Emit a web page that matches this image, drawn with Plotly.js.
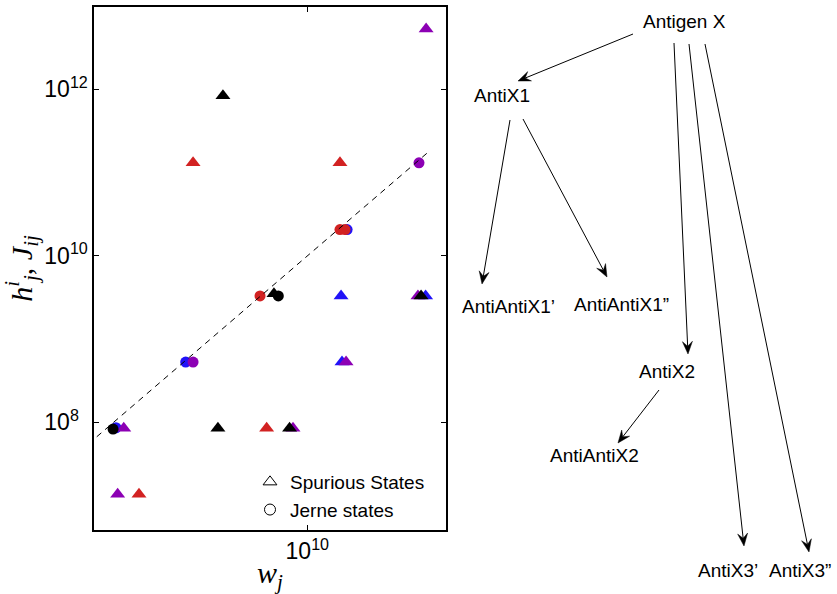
<!DOCTYPE html>
<html>
<head>
<meta charset="utf-8">
<script src="https://cdn.plot.ly/plotly-3.0.1.min.js"></script>
<style>html,body{margin:0;padding:0;background:#fff}</style>
</head>
<body>
<div id="chart" style="width:837px;height:594px"></div>
<script>
// ---- data (w_j, h / J values) ----
const blueW   = [2.2e9, 3.82e9, 1.37e10, 1.306e10, 2.55e10, 1.316e10];
const blueH   = [8.6e7, 5.3e8, 2.07e10, 3.3e9, 3.3e9, 5.3e8];
const blueSym = ['circle','circle','circle','triangle-up','triangle-up','triangle-up'];

const purpleW   = [4.05e9, 2.42e10, 2.56e10, 2.40e10, 1.359e10, 2.34e9, 8.93e9, 2.23e9];
const purpleH   = [5.3e8, 1.31e11, 5.3e12, 3.3e9, 5.3e8, 8.5e7, 8.5e7, 1.37e7];
const purpleSym = ['circle','circle','triangle-up','triangle-up','triangle-up','triangle-up','triangle-up','triangle-up'];

const redW   = [6.88e9, 1.295e10, 1.348e10, 4.05e9, 1.295e10, 7.25e9, 2.64e9];
const redH   = [3.3e9, 2.07e10, 2.07e10, 1.31e11, 1.31e11, 8.5e7, 1.37e7];
const redSym = ['circle','circle','circle','triangle-up','triangle-up','triangle-up','triangle-up'];

const blackW   = [5.13e9, 7.68e9, 7.95e9, 2.46e10, 2.15e9, 4.93e9, 8.69e9];
const blackH   = [8.4e11, 3.5e9, 3.3e9, 3.3e9, 8.3e7, 8.5e7, 8.5e7];
const blackSym = ['triangle-up','triangle-up','circle','triangle-up','circle','triangle-up','triangle-up'];

const fitW = [1.89e9, 2.64e10];
const fitH = [6.7e7, 1.84e11];

const legendNames = ['Spurious States', 'Jerne states'];
const legendSyms  = ['triangle-up-open', 'circle-open'];

const yTickVals = [1e8, 1e10, 1e12];
const yTickText = ['10<sup>8\u00a0\u00a0</sup>', '10<sup>10</sup>', '10<sup>12</sup>'];
const xTickVals = [1e10];
const xTickText = ['10<sup>10</sup>'];

// tree diagram
const nodeLabels = ['Antigen X','AntiX1',"AntiAntiX1\u2019","AntiAntiX1\u201d",'AntiX2','AntiAntiX2',"AntiX3\u2019","AntiX3\u201d"];
// ---- layout helpers (positions in figure pixels) ----
const W = 837, H = 594;
const nodePos = [[684,21],[502,95],[508,306],[621,304],[667,371],[594,456],[728,570],[800,570]];
const arrows = [ // tail -> head
  [[633,34],[518,81]],
  [[510,120],[482,284]],
  [[523,119],[607,277]],
  [[674,43],[688,354]],
  [[659,390],[618,443]],
  [[689,44],[744,546]],
  [[705,44],[809,552]]
];

const colors = {blue:'#2012f8', purple:'#8c00b4', red:'#d22222', black:'#000000'};
const msize = s => s.map(v => v === 'circle' ? 11 : 13);
const mk = (c, s) => ({color:c, symbol:s, size:msize(s), opacity:1, line:{width:0}});

const traces = [
  {x: blueW, y: blueH, mode:'markers', marker:mk(colors.blue, blueSym), showlegend:false},
  {x: purpleW, y: purpleH, mode:'markers', marker:mk(colors.purple, purpleSym), showlegend:false},
  {x: redW, y: redH, mode:'markers', marker:mk(colors.red, redSym), showlegend:false},
  {x: blackW, y: blackH, mode:'markers', marker:mk(colors.black, blackSym), showlegend:false},
  {x: fitW, y: fitH, mode:'lines', line:{color:'#000', width:1, dash:'6px,5px'}, showlegend:false},
  {x:[null], y:[null], mode:'markers', name:legendNames[0], marker:{symbol:legendSyms[0], size:12, color:'#000', opacity:1, line:{width:1,color:'#000'}}},
  {x:[null], y:[null], mode:'markers', name:legendNames[1], marker:{symbol:legendSyms[1], size:11, color:'#000', opacity:1, line:{width:1,color:'#000'}}}
];

const annotations = nodeLabels.map((t,i) => ({
  xref:'paper', yref:'paper', x:nodePos[i][0]/W, y:1-nodePos[i][1]/H,
  text:t, showarrow:false, xanchor:'center', yanchor:'middle',
  font:{family:'Liberation Sans, Arial, sans-serif', size:19, color:'#000'}
}));

// arrows as shapes: shaft line + concave filled head
const px = (x) => x / W, py = (y) => 1 - y / H;
const shapes = [];
const HEAD_L = 12.5, HEAD_HW = 5, NOTCH = 0.62;
arrows.forEach(([t, h]) => {
  const dx = h[0]-t[0], dy = h[1]-t[1];
  const len = Math.hypot(dx, dy), ux = dx/len, uy = dy/len;
  const nx = -uy, ny = ux;
  const bx = h[0]-ux*HEAD_L, by = h[1]-uy*HEAD_L;
  const mxp = h[0]-ux*HEAD_L*NOTCH, myp = h[1]-uy*HEAD_L*NOTCH;
  shapes.push({type:'line', xref:'paper', yref:'paper',
    x0:px(t[0]), y0:py(t[1]), x1:px(mxp), y1:py(myp),
    line:{color:'#000', width:1}});
  const p = [[h[0],h[1]],[bx+nx*HEAD_HW, by+ny*HEAD_HW],[mxp,myp],[bx-nx*HEAD_HW, by-ny*HEAD_HW]];
  shapes.push({type:'path', xref:'paper', yref:'paper',
    path:'M' + p.map(q => px(q[0]).toFixed(5)+','+py(q[1]).toFixed(5)).join(' L') + ' Z',
    fillcolor:'#000', line:{color:'#000', width:0.5}});
});

const axisCommon = {
  type:'log', showgrid:false, zeroline:false, showline:true, linecolor:'#000', linewidth:1.6,
  mirror:'ticks', ticks:'inside', ticklen:5, tickwidth:1, tickcolor:'#000',
  tickfont:{family:'Liberation Sans, Arial, sans-serif', size:23, color:'#000'},
  tickmode:'array', automargin:false, fixedrange:true
};

const layout = {
  width:W, height:H, autosize:false,
  margin:{l:0,r:0,t:0,b:0,pad:0},
  paper_bgcolor:'#fff', plot_bgcolor:'#fff',
  showlegend:true,
  legend:{x:250/W, y:1-463/H, xanchor:'left', yanchor:'top', bgcolor:'rgba(0,0,0,0)',
    font:{family:'Liberation Sans, Arial, sans-serif', size:19, color:'#000'}},
  xaxis:Object.assign({}, axisCommon, {
    domain:[94/W, 446/W], range:[9.267, 10.4766],
    tickvals:xTickVals, ticktext:xTickText,
    title:{text:'<i>w</i><sub><i>j</i></sub>', standoff:6,
      font:{family:'Liberation Serif, Times New Roman, serif', size:30, color:'#000'}}
  }),
  yaxis:Object.assign({}, axisCommon, {
    domain:[64/H, 587/H], range:[6.706, 12.99],
    tickvals:yTickVals, ticktext:yTickText,
    title:{text:'<i>h</i><sup><i>i</i></sup><sub><i>j</i></sub>, <i>J</i><sub><i>ij</i></sub>', standoff:8,
      font:{family:'Liberation Serif, Times New Roman, serif', size:30, color:'#000'}}
  }),
  annotations:annotations,
  shapes:shapes
};

Plotly.newPlot('chart', traces, layout, {staticPlot:true, displayModeBar:false});
</script>
</body>
</html>
